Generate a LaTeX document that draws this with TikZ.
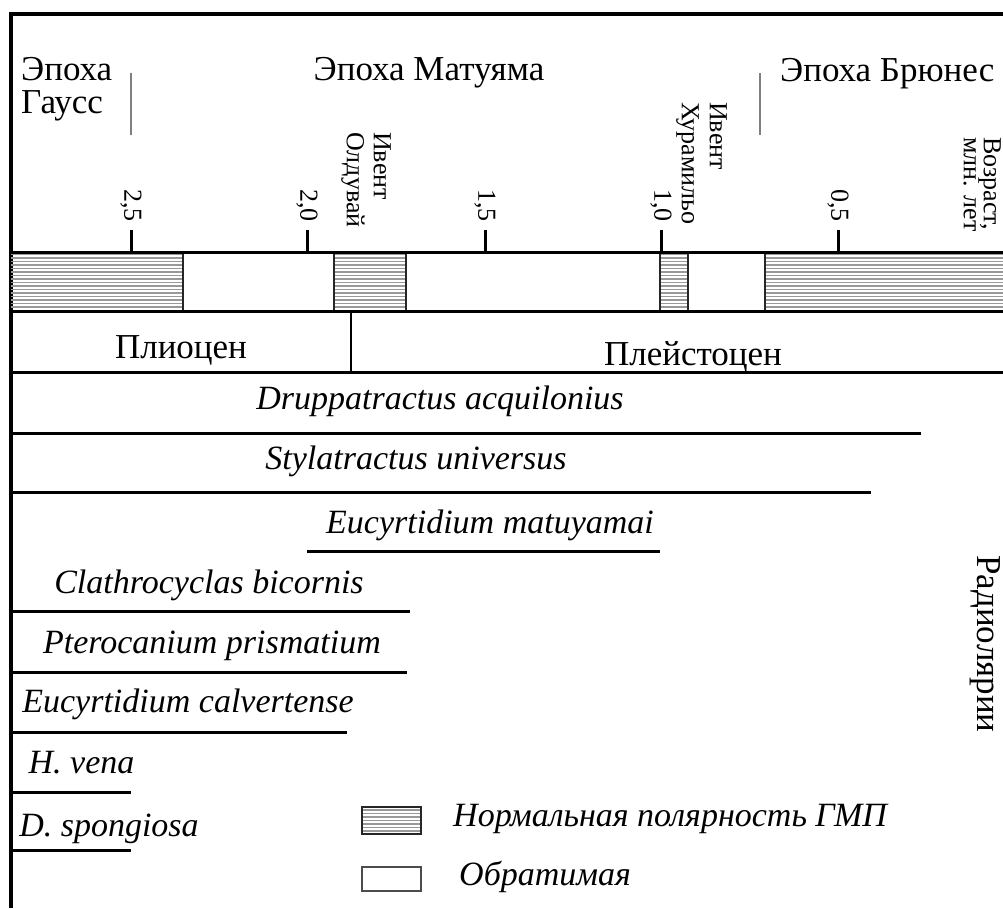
\documentclass[tikz,border=0pt]{standalone}
\usepackage{fontspec}
\setmainfont{Liberation Serif}
\usepackage{tikz}

\begin{document}
\begin{tikzpicture}[x=1pt, y=-1pt, every node/.style={inner sep=0pt, font=\fontsize{35}{33}\selectfont},
	hatchline/.style={gray!80, line width=1.3pt},
	segline/.style={gray!30!black, line width=2pt},
	rotlabel/.style={rotate=-90, font=\fontsize{26}{27}\selectfont},
	spname/.style={anchor=base, font=\fontsize{34}{34}\selectfont\itshape}]
	\useasboundingbox (0,0) rectangle (1003,908);
	\draw[line width=3.5pt] (1003,14) -- (11,14) -- (11,908);
	% epochs
	\node[anchor=north west, align=left] (gauss) at (21,57) {Эпоха\\Гаусс};
	\node[anchor=base] (matuyama) at (429,80) {Эпоха Матуяма};
	\node[anchor=base west] (brunhes) at (780,81) {Эпоха Брюнес};
	\draw[gray, line width=2pt] (131,73) -- (131,135);
	\draw[gray, line width=2pt] (760,73) -- (760,135);
	% polarity band
	\foreach \xa/\xb in {11/183, 334/406, 660/688, 765/1003} {
		\foreach \y in {254.5,258,...,310} {\draw[hatchline] (\xa,\y) -- (\xb,\y);}
	}
	\foreach \x in {183,334,406,660,688,765} {\draw[segline] (\x,252) -- (\x,311);}
	\draw[line width=3pt] (11,252) -- (1003,252);
	\draw[line width=3pt] (11,311) -- (1003,311);
	\foreach \x/\lab in {131/{2,5}, 307/{2,0}, 485/{1,5}, 661/{1,0}, 838/{0,5}} {
		\draw[line width=3pt] (\x,230) -- (\x,252);
		\node[rotlabel, anchor=east] (tick\x) at (\x,222) {\lab};
	}
	\node[rotlabel, align=left, anchor=north west] (olduvai) at (391,132) {Ивент\\Олдувай};
	\node[rotlabel, align=left, anchor=north west, font=\fontsize{26}{28}\selectfont] (jaramillo) at (727,102) {Ивент\\Хурамильо};
	\node[rotlabel, align=left, anchor=north west, font=\fontsize{26}{20}\selectfont] (age) at (1001,137) {Возраст,\\млн. лет};
	% series
	\node[anchor=base] (pliocene) at (181,358) {Плиоцен};
	\node[anchor=base] (pleistocene) at (693,365) {Плейстоцен};
	\draw[line width=1.5pt] (351,311) -- (351,372);
	\draw[line width=3pt] (11,372) -- (1003,372);
	% radiolaria ranges
	\foreach [count=\i] \txt/\cx/\by/\xa/\xb/\ly in {
		Druppatractus acquilonius/440/409/11/921/433,
		Stylatractus universus/416/469/11/871/492.5,
		Eucyrtidium matuyamai/490/533/307/660/551.5,
		Clathrocyclas bicornis/209/593/11/409.5/611.5,
		Pterocanium prismatium/212/653/11/407/672,
		Eucyrtidium calvertense/188/712/11/347/732,
		H. vena/81.5/773/11/131/792.5,
		D. spongiosa/109/836/11/131/850.5} {
		\node[spname] (sp\i) at (\cx,\by) {\txt};
		\draw[line width=3pt] (\xa,\ly) -- (\xb,\ly);
	}
	\node[rotate=-90, anchor=base] (radiolaria) at (977,644) {Радиолярии};
	% legend
	\foreach \y in {810,813.5,...,832} {\draw[hatchline] (362,\y) -- (421,\y);}
	\draw[segline] (362,807) rectangle (421,834);
	\draw[gray!60!black, line width=2.5pt] (362,867) rectangle (421,891);
	\node[anchor=base west, font=\fontsize{34}{34}\selectfont\itshape] (normal) at (453,826.5) {Нормальная полярность ГМП};
	\node[anchor=base west, font=\fontsize{34}{34}\selectfont\itshape] (reversed) at (459,885) {Обратимая};
\end{tikzpicture}
\end{document}
